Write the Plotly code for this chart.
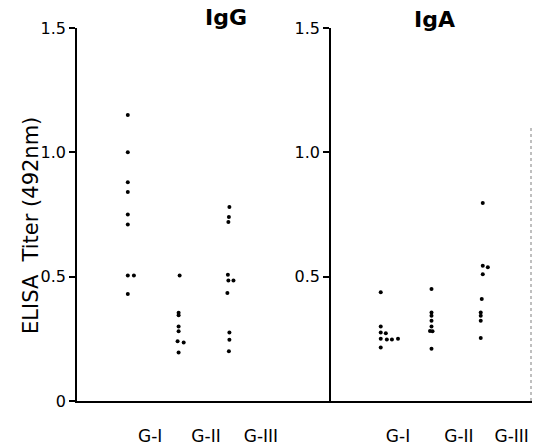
import plotly.graph_objects as go

# ---- data ----
group_labels = ["G-I", "G-II", "G-III"]
y_tick_vals = [0, 0.5, 1.0, 1.5]
y_tick_text_left = ["0", "0.5", "1.0", "1.5"]
y_tick_vals_right = [0.5, 1.0, 1.5]
y_tick_text_right = ["0.5", "1.0", "1.5"]

igg_g1_x = [1.0, 1.0, 1.0, 1.0, 1.0, 1.0, 1.0, 1.12, 1.0]
igg_g1_y = [1.15, 1.00, 0.88, 0.84, 0.75, 0.71, 0.505, 0.505, 0.43]
igg_g2_x = [2.02, 2.0, 2.0, 2.0, 2.0, 1.98, 2.1, 2.0]
igg_g2_y = [0.505, 0.355, 0.345, 0.30, 0.28, 0.24, 0.235, 0.195]
igg_g3_x = [3.0, 2.99, 2.98, 2.97, 2.98, 3.08, 2.96, 3.0, 3.0, 2.99]
igg_g3_y = [0.78, 0.74, 0.72, 0.508, 0.485, 0.485, 0.434, 0.275, 0.246, 0.20]

iga_g1_x = [0.98, 0.98, 0.98, 1.08, 0.98, 1.1, 1.2, 1.32, 0.98]
iga_g1_y = [0.437, 0.30, 0.275, 0.272, 0.25, 0.247, 0.247, 0.25, 0.215]
iga_g2_x = [1.98, 1.98, 1.98, 1.98, 1.98, 1.95, 2.0, 1.98]
iga_g2_y = [0.45, 0.356, 0.343, 0.323, 0.30, 0.282, 0.28, 0.21]
iga_g3_x = [2.99, 2.99, 3.09, 2.99, 2.97, 2.95, 2.95, 2.95, 2.95]
iga_g3_y = [0.796, 0.544, 0.538, 0.51, 0.41, 0.356, 0.343, 0.323, 0.253]

left_label_pos = [1.44, 2.54, 3.62]
right_label_pos = [1.32, 2.52, 3.56]

FONT = "DejaVu Sans"
W, H = 533, 448

fig = go.Figure()
mk = dict(color="black", size=4)
for xs, ys in [(igg_g1_x, igg_g1_y), (igg_g2_x, igg_g2_y), (igg_g3_x, igg_g3_y)]:
    fig.add_trace(go.Scatter(x=xs, y=ys, mode="markers", marker=mk,
                             xaxis="x", yaxis="y", showlegend=False))
for xs, ys in [(iga_g1_x, iga_g1_y), (iga_g2_x, iga_g2_y), (iga_g3_x, iga_g3_y)]:
    fig.add_trace(go.Scatter(x=xs, y=ys, mode="markers", marker=mk,
                             xaxis="x2", yaxis="y2", showlegend=False))

x_left0, x_mid, x_right = 77 / W, 331 / W, 532 / W
y_bot, y_top = (H - 401) / H, (H - 28) / H

common_x = dict(showgrid=False, zeroline=False, showline=True, linecolor="black",
                linewidth=1.5, ticks="", ticklen=0, ticklabelstandoff=19,
                automargin=False,
                tickfont=dict(family=FONT, size=17, color="black"), fixedrange=True)
common_y = dict(showgrid=False, zeroline=False, showline=True, linecolor="black",
                linewidth=1.5, ticks="outside", ticklen=6, tickwidth=1.5,
                tickcolor="black", range=[0, 1.5], automargin=False,
                tickfont=dict(family=FONT, size=16, color="black"), fixedrange=True)

fig.update_layout(
    width=W, height=H,
    autosize=False,
    margin=dict(l=0, r=0, t=0, b=0, pad=0, autoexpand=False),
    paper_bgcolor="white", plot_bgcolor="white",
    xaxis=dict(domain=[x_left0, x_mid], range=[0, 5.0], anchor="y",
               tickvals=left_label_pos, ticktext=group_labels, **common_x),
    xaxis2=dict(domain=[x_mid, x_right], range=[0, 3.96], anchor="y2",
                tickvals=right_label_pos, ticktext=group_labels, **common_x),
    yaxis=dict(domain=[y_bot, y_top], anchor="x", tickvals=y_tick_vals,
               ticktext=y_tick_text_left, **common_y),
    yaxis2=dict(domain=[y_bot, y_top], anchor="x2", tickvals=y_tick_vals_right,
                ticktext=y_tick_text_right, **common_y),
    annotations=[
        dict(text="<b>IgG</b>", x=226 / W, y=(H - 17) / H, xref="paper", yref="paper",
             xanchor="center", yanchor="middle",
             showarrow=False, font=dict(family=FONT, size=22, color="black")),
        dict(text="<b>IgA</b>", x=434 / W, y=(H - 20) / H, xref="paper", yref="paper",
             xanchor="center", yanchor="middle",
             showarrow=False, font=dict(family=FONT, size=22, color="black")),
        dict(text="ELISA  Titer (492nm)", x=31 / W, y=(H - 226) / H, xref="paper",
             yref="paper", showarrow=False, textangle=-90,
             xanchor="center", yanchor="middle",
             font=dict(family=FONT, size=21, color="black")),
    ],
    shapes=[
        dict(type="line", xref="paper", yref="y2", x0=531 / W, x1=531 / W,
             y0=0, y1=1.1, line=dict(color="#aaaaaa", width=1.5, dash="dot")),
    ],
)

fig.write_html("out.html", config={"displayModeBar": False},
               post_script="document.body.style.margin='0';")
